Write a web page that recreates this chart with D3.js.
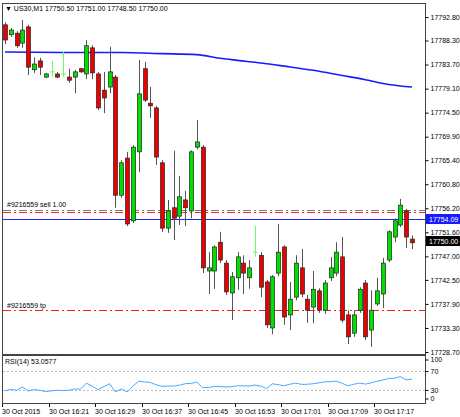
<!DOCTYPE html>
<html><head><meta charset="utf-8">
<script src="https://cdn.jsdelivr.net/npm/d3@7"></script>
<style>body{margin:0;background:#fff}svg{display:block}text{font-family:"Liberation Sans",Arial,sans-serif;font-size:7px;fill:#000}</style>
</head><body><svg id="c" width="460" height="417"></svg>
<script>
const symbol="US30,M1", header="17750.50 17751.00 17748.50 17750.00";
// [open, high, low, close]
const candles=[
[17791.3,17791.8,17787.6,17788.4],[17789.4,17790.7,17789.0,17790.3],[17789.7,17790.1,17786.9,17787.3],[17787.8,17792.2,17786.9,17790.3],
[17790.9,17791.3,17781.7,17783.2],[17782.7,17785.1,17782.1,17783.8],[17784.4,17785.0,17781.7,17783.2],[17781.3,17782.1,17781.1,17781.9],
[17782.3,17784.4,17781.3,17782.3],[17781.9,17782.3,17781.1,17781.3],[17781.9,17786.1,17781.3,17781.9],[17781.3,17782.9,17780.2,17780.7],
[17781.3,17782.7,17778.2,17782.3],[17782.9,17783.0,17782.1,17782.3],[17781.9,17788.4,17780.9,17787.3],[17786.9,17787.4,17780.9,17782.1],
[17781.9,17782.3,17775.0,17775.4],[17778.8,17782.3,17774.4,17777.3],[17779.4,17787.1,17778.2,17782.3],[17781.3,17781.7,17756.3,17758.7],
[17758.7,17765.4,17758.2,17764.9],[17765.8,17767.0,17752.8,17753.2],[17753.8,17768.3,17753.4,17767.9],[17767.0,17784.6,17763.1,17778.1],
[17782.9,17784.2,17776.5,17776.9],[17776.3,17779.4,17773.5,17775.8],[17775.4,17775.8,17764.5,17766.0],[17764.9,17765.4,17751.7,17752.4],
[17752.4,17757.8,17751.5,17755.7],[17756.3,17767.2,17750.1,17754.3],[17754.7,17762.4,17753.0,17758.4],[17757.8,17759.5,17752.8,17756.3],
[17755.7,17767.3,17754.3,17767.0],[17767.9,17773.1,17767.5,17768.9],[17767.9,17768.3,17743.8,17744.8],[17744.2,17747.8,17739.8,17744.8],
[17744.2,17749.1,17740.8,17748.8],[17749.7,17751.7,17745.7,17746.3],[17745.7,17746.3,17739.6,17740.2],[17740.0,17744.0,17734.8,17743.1],
[17742.9,17747.8,17740.6,17746.9],[17745.7,17747.2,17739.8,17743.8],[17742.9,17746.3,17740.8,17744.8],[17747.8,17752.8,17746.9,17747.8],
[17747.2,17747.8,17739.2,17741.1],[17742.1,17742.5,17733.3,17733.9],[17733.3,17743.4,17732.1,17743.1],[17743.8,17753.2,17743.2,17747.8],
[17748.8,17749.1,17733.9,17735.4],[17735.8,17742.1,17732.9,17738.8],[17739.2,17747.2,17738.6,17745.7],[17744.8,17748.4,17739.2,17739.8],
[17738.8,17739.6,17734.3,17736.7],[17737.3,17744.2,17734.2,17740.7],[17740.4,17740.9,17736.2,17736.7],[17736.7,17742.5,17736.0,17741.9],
[17742.9,17746.9,17742.3,17744.8],[17743.8,17749.7,17743.2,17747.8],[17746.9,17750.7,17734.3,17734.8],[17735.8,17736.7,17730.2,17731.6],
[17732.3,17736.7,17731.6,17735.8],[17736.7,17741.1,17736.2,17740.7],[17741.9,17742.5,17731.0,17731.6],[17732.9,17740.5,17729.7,17736.7],
[17737.9,17742.9,17737.5,17740.4],[17739.8,17746.7,17737.1,17745.7],[17746.3,17752.0,17745.9,17751.7],[17750.7,17754.3,17749.7,17753.8],
[17753.0,17758.0,17752.6,17756.8],[17755.7,17756.1,17748.6,17750.7],[17750.3,17751.0,17748.4,17749.6]];
const maIdx=[0,10,20,27,33,37,40,44,48,53,58,62,66,70];
const maVal=[17786.1,17786.0,17786.0,17785.8,17785.6,17784.9,17784.5,17784.0,17783.4,17782.6,17781.6,17780.8,17779.9,17779.4];
const rsi=[27.8,31.3,29.2,36.1,27.8,30.6,29,26.4,28,29.2,28.5,29.2,31.9,31.9,44.4,38,30.6,37,43.1,25.7,31.9,25.7,38,48.6,47,45.8,41,37.5,38,38.2,40,43.1,44,46.5,34.7,35,37.5,37,36.1,37,38.9,38.5,38.2,40.3,38,32.6,43.1,41,38.9,42,44.4,41.7,42,43.1,45,47.2,47.5,48.6,44,38.9,42,44.4,42.4,45,48.6,51,54.2,54.9,58.3,51.4,53.1];
const priceTicks=[17792.80,17788.30,17783.70,17779.10,17774.50,17769.90,17765.40,17760.80,17756.20,17751.60,17747.00,17742.50,17737.90,17733.30,17728.70];
const timeLabels=["30 Oct 2015","30 Oct 16:21","30 Oct 16:29","30 Oct 16:37","30 Oct 16:45","30 Oct 16:53","30 Oct 17:01","30 Oct 17:09","30 Oct 17:17"];
const sellPrice=17755.5, slPrice=17755.9, bidPrice=17754.09, lastPrice=17750.00, tpPrice=17736.7;
const rsiLevels=[70,30], rsiAxis=[100,70,30,0];

const svg=d3.select("#c");
const L=2,R=425,T=3,B=354;
const x=d3.scaleLinear().domain([0,70]).range([5,412]);
const y=d3.scaleLinear().domain([17728.7,17792.8]).range([352,17]);
const ry=d3.scaleLinear().domain([0,100]).range([404,357]);
const g=svg.append("g");
g.append("rect").attr("x",L+.5).attr("y",T+.5).attr("width",R-L).attr("height",B-T).attr("fill","none").attr("stroke","#444");
g.append("rect").attr("x",L+.5).attr("y",355.5).attr("width",R-L).attr("height",48).attr("fill","none").attr("stroke","#444");
const ax=svg.append("g").attr("transform",`translate(${R+0.5},0)`).call(d3.axisRight(y).tickValues(priceTicks).tickFormat(d3.format(".2f")).tickSize(3).tickPadding(2));
ax.select(".domain").remove(); ax.selectAll("line").attr("stroke","#000");
ax.selectAll("text").style("font-size","7px");
svg.append("text").attr("x",5).attr("y",11).text("▼  "+symbol+"  "+header);
const hl=(p,col,dash)=>g.append("line").attr("x1",L+1).attr("x2",R).attr("y1",Math.round(y(p))+.5).attr("y2",Math.round(y(p))+.5).attr("stroke",col).attr("stroke-dasharray",dash);
hl(slPrice,"#777","8,3,2,3"); hl(sellPrice,"#ff2020","8,3,2,3"); hl(tpPrice,"#ff2020","8,3,2,3"); hl(bidPrice,"#2020ff",null);
g.append("text").attr("x",7).attr("y",y(slPrice)-3).text("#9216559 sell 1.00");
g.append("text").attr("x",7).attr("y",y(tpPrice)-2).text("#9216559 tp");
g.append("path").datum(maIdx.map((d,i)=>[d,maVal[i]])).attr("fill","none").attr("stroke","#1a1aff").attr("stroke-width",1.6)
 .attr("d",d3.line().x(d=>x(d[0])).y(d=>y(d[1])).curve(d3.curveMonotoneX));
const cdata=candles.map((d,i)=>({i,o:d[0],h:d[1],l:d[2],c:d[3]}));
const cx=d=>Math.round(x(d.i));
const cg=g.selectAll(".c").data(cdata).join("g");
cg.append("line").attr("x1",d=>cx(d)+.5).attr("x2",d=>cx(d)+.5)
 .attr("y1",d=>y(d.h)).attr("y2",d=>y(d.l)).attr("stroke",d=>d.o===d.c?"#66ff66":"#555");
cg.filter(d=>d.o!==d.c).append("rect").attr("x",d=>cx(d)-1.5).attr("width",4)
 .attr("y",d=>y(Math.max(d.o,d.c))).attr("height",d=>Math.max(1,Math.abs(y(d.o)-y(d.c))))
 .attr("fill",d=>d.c>d.o?"#00e000":"#ee0000").attr("stroke","#222").attr("stroke-width",0.7);
cg.filter(d=>d.o===d.c).append("line").attr("x1",d=>cx(d)-2).attr("x2",d=>cx(d)+3)
 .attr("y1",d=>y(d.o)).attr("y2",d=>y(d.o)).attr("stroke","#66ff66");
const tag=(p,bg,fg,txt)=>{const yy=Math.round(y(p));svg.append("rect").attr("x",R+1).attr("y",yy-5).attr("width",34).attr("height",10).attr("fill",bg);
 svg.append("text").attr("x",R+4).attr("y",yy+3).text(txt).style("fill",fg);};
tag(bidPrice,"#1a1aff","#fff","17754.09"); tag(lastPrice,"#000","#fff","17750.00");
rsiLevels.forEach(l=>g.append("line").attr("x1",L+1).attr("x2",R).attr("y1",Math.round(ry(l))+.5).attr("y2",Math.round(ry(l))+.5).attr("stroke","#bbb").attr("stroke-dasharray","2,2"));
g.append("path").datum(rsi).attr("fill","none").attr("stroke","#4da6ff").attr("stroke-width",1).attr("d",d3.line().x((d,i)=>x(i)).y(d=>ry(d)));
svg.append("text").attr("x",5).attr("y",364).text("RSI(14) 53.0577");
const rax=svg.append("g").attr("transform",`translate(${R+0.5},0)`).call(d3.axisRight(ry).tickValues(rsiAxis).tickSize(3).tickPadding(2));
rax.select(".domain").remove(); rax.selectAll("text").style("font-size","7px");
rax.selectAll(".tick").filter(d=>d===100).attr("transform",`translate(0,${ry(100)+3})`);
rax.selectAll(".tick").filter(d=>d===0).attr("transform",`translate(0,${ry(0)-5})`);
timeLabels.forEach((t,k)=>{const xx=Math.round(x(k*8))-3;
 svg.append("line").attr("x1",xx+.5).attr("x2",xx+.5).attr("y1",404).attr("y2",407).attr("stroke","#000");
 svg.append("text").attr("x",xx).attr("y",414).text(t);});
</script></body></html>
